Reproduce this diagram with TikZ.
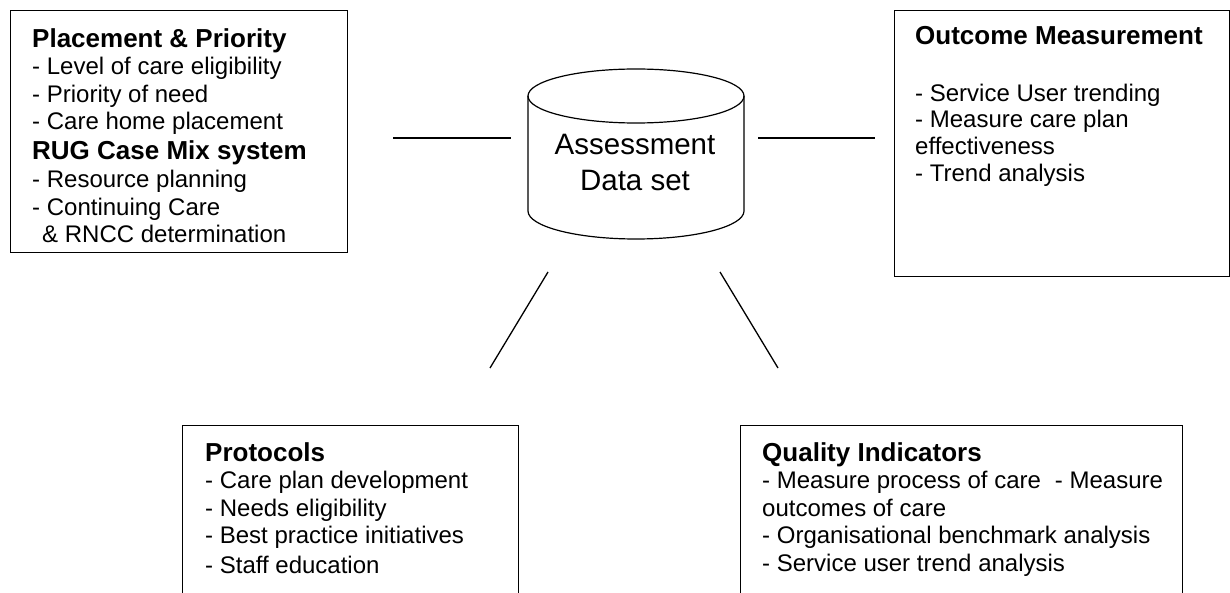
\documentclass[tikz,border=0pt]{standalone}
\usepackage{fontspec}
\setmainfont{Liberation Sans}
\begin{document}
\begin{tikzpicture}[x=1pt,y=-1pt,
  box/.style={draw, line width=1.2pt, inner sep=0pt, anchor=north west},
  txt/.style={inner sep=0pt, anchor=north west, align=left, font=\fontsize{24}{27.5}\selectfont},
  ttl/.style={},
  conn/.style={line width=1.3pt}]
\clip (0,0) rectangle (1230,593);
\fill[white] (0,0) rectangle (1230,593);
% boxes
\node[box, minimum width=337pt, minimum height=242pt] (b1) at (10,10) {};
\node[box, minimum width=335pt, minimum height=266pt] (b2) at (894,10) {};
\node[box, minimum width=336pt, minimum height=220pt] (b3) at (182,425) {};
\node[box, minimum width=442pt, minimum height=220pt] (b4) at (740,425) {};
% texts
\newcommand\ttlfont{\bfseries\fontsize{26}{27.5}\selectfont}
\node[txt] (t1) at (32,28) {{\ttlfont Placement \& Priority}\\
- Level of care eligibility\\
- Priority of need\\
- Care home placement\\[2pt]
{\ttlfont RUG Case Mix system}\\[1pt]
- Resource planning\\
- Continuing Care\\
\hspace*{10pt}\& RNCC determination};
\node[txt, font=\fontsize{24}{26.8}\selectfont] (t2) at (915,26) {{\ttlfont Outcome Measurement}\\[30pt]
- Service User trending\\
- Measure care plan\\
effectiveness\\
- Trend analysis};
\node[txt] (t3) at (205,442) {{\ttlfont Protocols}\\
- Care plan development\\
- Needs eligibility\\
- Best practice initiatives\\[2pt]
- Staff education};
\node[txt] (t4) at (762,442) {{\ttlfont Quality Indicators}\\
- Measure process of care\hspace{14pt}- Measure\\
outcomes of care\\
- Organisational benchmark analysis\\
- Service user trend analysis};
% cylinder
\draw[line width=1.2pt] (528,96) -- (528,211) arc[start angle=180, end angle=360, x radius=108pt, y radius=28pt] -- (744,96);
\draw[line width=1.2pt] (636,96) ellipse [x radius=108pt, y radius=27pt];
\node[inner sep=0pt, anchor=north, align=center, font=\fontsize{29.5}{36}\selectfont] (cyl) at (635,134) {Assessment\\Data set};
% connectors
\coordinate (l1) at (393,138); \coordinate (l2) at (511,138);
\coordinate (r1) at (758,138); \coordinate (r2) at (875,138);
\coordinate (d1) at (548,272); \coordinate (d2) at (490,368);
\coordinate (e1) at (720,272); \coordinate (e2) at (778,368);
\draw[conn] (l1) -- (l2);
\draw[conn] (r1) -- (r2);
\draw[conn] (d1) -- (d2);
\draw[conn] (e1) -- (e2);
\end{tikzpicture}
\end{document}
